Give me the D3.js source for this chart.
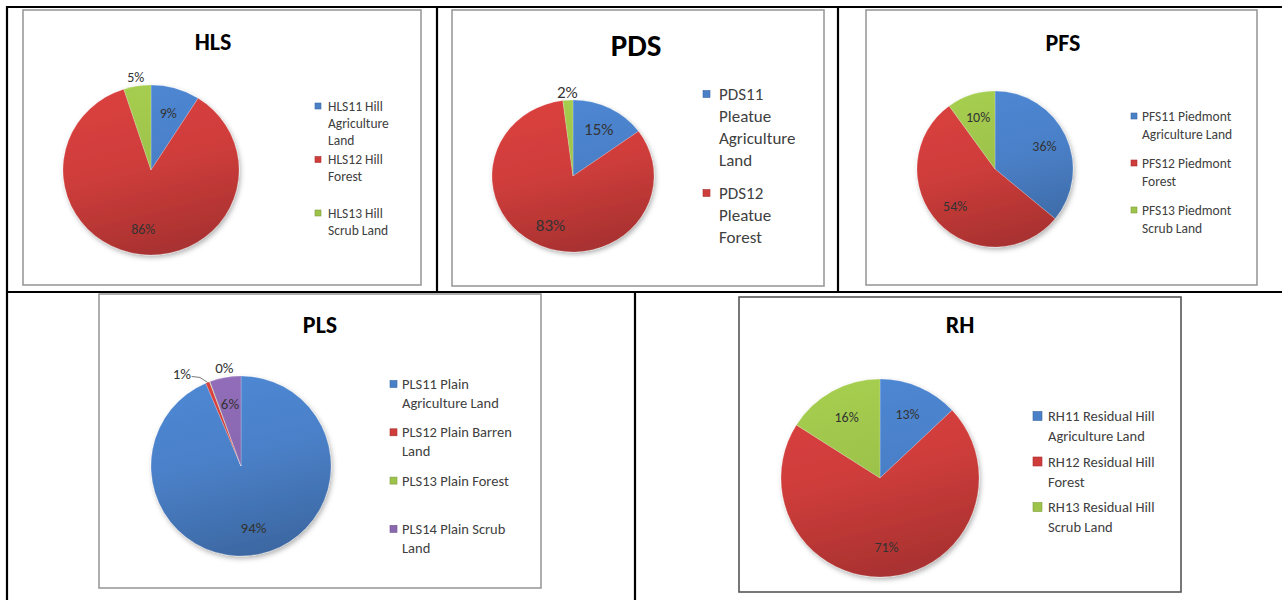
<!DOCTYPE html>
<html>
<head>
<meta charset="utf-8">
<script src="https://cdn.jsdelivr.net/npm/d3@7"></script>
<style>
  body { margin: 0; background: #fff; }
  svg { display: block; }
  text { font-family: Carlito, Calibri, Lato, sans-serif; }
</style>
</head>
<body>
<svg id="fig" width="1282" height="600"></svg>
<script>
// ---- data (percent of each land class) ----
var hlsNames = ["HLS11 Hill\nAgriculture\nLand", "HLS12 Hill\nForest", "HLS13 Hill\nScrub Land"],
    hlsValues = [9, 86, 5];
var pdsNames = ["PDS11\nPleatue\nAgriculture\nLand", "PDS12\nPleatue\nForest"],
    pdsValues = [15, 83, 2];
var pfsNames = ["PFS11 Piedmont\nAgriculture Land", "PFS12 Piedmont\nForest", "PFS13 Piedmont\nScrub Land"],
    pfsValues = [36, 54, 10];
var plsNames = ["PLS11 Plain\nAgriculture Land", "PLS12 Plain Barren\nLand", "PLS13 Plain Forest", "PLS14 Plain Scrub\nLand"],
    plsValues = [93.6, 0.7, 0.1, 5.6];
var rhNames = ["RH11 Residual Hill\nAgriculture Land", "RH12 Residual Hill\nForest", "RH13 Residual Hill\nScrub Land"],
    rhValues = [13, 71, 16];

var palette = ["#4a80c8", "#cf3d3b", "#9dc34b", "#8a68b0"];

// layout of each chart box
var charts = [
  { title: "HLS", names: hlsNames, values: hlsValues, frame: [23, 10, 421, 285], frameColor: "#9a9a9a",
    titleX: 213, titleY: 42, titleSize: 24, cx: 151, cy: 170, rx: 88, ry: 85,
    legX: 315, legY: 106, lh: 17, slot: 53.5, fs: 13.5, sq: 6, gap: 7, labelSize: 14 },
  { title: "PDS", names: pdsNames, values: pdsValues, frame: [452, 10, 824, 286], frameColor: "#9a9a9a",
    titleX: 636, titleY: 45, titleSize: 31, cx: 573, cy: 176, rx: 81, ry: 76,
    legX: 703, legY: 94, lh: 22, slot: 99, fs: 17, sq: 7, gap: 9, labelSize: 17 },
  { title: "PFS", names: pfsNames, values: pfsValues, frame: [866, 10, 1257, 285], frameColor: "#9a9a9a",
    titleX: 1063, titleY: 43, titleSize: 24, cx: 995, cy: 169, rx: 78, ry: 78,
    legX: 1131, legY: 116, lh: 18.5, slot: 47, fs: 13.5, sq: 6, gap: 5, labelSize: 14 },
  { title: "PLS", names: plsNames, values: plsValues, frame: [99, 294, 541, 588], frameColor: "#9a9a9a",
    titleX: 320, titleY: 325, titleSize: 24, cx: 241, cy: 466, rx: 90, ry: 90,
    legX: 390, legY: 384, lh: 19, slot: 48.3, fs: 14.5, sq: 7, gap: 5, labelSize: 15 },
  { title: "RH", names: rhNames, values: rhValues, frame: [739, 297, 1181, 592], frameColor: "#555",
    titleX: 960, titleY: 325, titleSize: 24, cx: 880, cy: 478, rx: 99, ry: 99,
    legX: 1033, legY: 416, lh: 20, slot: 45.5, fs: 14.5, sq: 9, gap: 6, labelSize: 14 }
];

var svg = d3.select("#fig");
var defs = svg.append("defs");

defs.append("filter").attr("id", "shadow").attr("x", "-20%").attr("y", "-20%").attr("width", "140%").attr("height", "140%")
  .append("feDropShadow").attr("dx", 1.5).attr("dy", 2.5).attr("stdDeviation", 2.5)
  .attr("flood-color", "#000").attr("flood-opacity", 0.3);

// table grid
var grid = [
  [6, 7, 1282, 7], [6, 292, 1282, 292],
  [7, 6, 7, 600], [437, 6, 437, 292], [838, 6, 838, 292], [635, 292, 635, 600]
];
svg.append("g").selectAll("line").data(grid).enter().append("line")
  .attr("x1", function (d) { return d[0]; }).attr("y1", function (d) { return d[1]; })
  .attr("x2", function (d) { return d[2]; }).attr("y2", function (d) { return d[3]; })
  .attr("stroke", "#000").attr("stroke-width", 2.2);

var pie = d3.pie().sort(null).value(function (d) { return d; });
var deg = Math.PI / 180;

charts.forEach(function (c, ci) {
  var g = svg.append("g");
  var f = c.frame;
  g.append("rect").attr("x", f[0]).attr("y", f[1]).attr("width", f[2] - f[0]).attr("height", f[3] - f[1])
    .attr("fill", "#fff").attr("stroke", c.frameColor).attr("stroke-width", 1.6);

  g.append("text").attr("x", c.titleX).attr("y", c.titleY).attr("dy", "0.35em")
    .attr("text-anchor", "middle").attr("font-weight", "bold").attr("font-size", c.titleSize)
    .attr("fill", "#000").text(c.title);

  // gradients per colour, in the pie's own (centred) coordinates: lighter top, darker bottom
  palette.forEach(function (col, k) {
    var base = d3.color(col);
    var lg = defs.append("linearGradient").attr("id", "g" + ci + "_" + k)
      .attr("gradientUnits", "userSpaceOnUse")
      .attr("x1", -c.rx * 0.3).attr("y1", -c.rx)
      .attr("x2", c.rx * 0.2).attr("y2", c.rx);
    lg.append("stop").attr("offset", 0).attr("stop-color", base.brighter(0.15).formatHex());
    lg.append("stop").attr("offset", 0.45).attr("stop-color", base.formatHex());
    lg.append("stop").attr("offset", 1).attr("stop-color", base.darker(0.6).formatHex());
  });

  var arcs = pie(c.values);
  var total = d3.sum(c.values);
  var arc = d3.arc().innerRadius(0).outerRadius(c.rx);

  var pg = g.append("g").attr("filter", "url(#shadow)")
    .attr("transform", "translate(" + c.cx + "," + c.cy + ") scale(1," + (c.ry / c.rx) + ")");
  pg.selectAll("path").data(arcs).enter().append("path")
    .attr("d", arc)
    .attr("fill", function (d, i) { return "url(#g" + ci + "_" + i + ")"; })
    .attr("stroke", "rgba(255,255,255,0.35)").attr("stroke-width", 0.6);

  // data labels
  var labels = arcs.map(function (d, i) {
    var pct = Math.round(d.value / total * 100);
    return { i: i, pct: pct, a: (d.startAngle + d.endAngle) / 2, outside: d.value / total * 100 <= 5, k: 0.7, leader: false };
  });
  var outs = labels.filter(function (l) { return l.outside; });
  outs.forEach(function (l) { l.k = 1.11; l.a0 = l.a; });
  for (var j = 1; j < outs.length; j++) {
    var p = outs[j - 1], q = outs[j], gap = 23 * deg;
    if (q.a - p.a < gap) {
      var mid = (p.a + q.a) / 2;
      p.a = mid - gap / 2; q.a = mid + gap / 2;
      p.leader = true; p.k = 1.22;
    }
  }
  labels.forEach(function (l) {
    l.x = c.cx + l.k * c.rx * Math.sin(l.a);
    l.y = c.cy - l.k * c.ry * Math.cos(l.a);
  });

  g.selectAll("text.lbl").data(labels).enter().append("text").attr("class", "lbl")
    .attr("x", function (l) { return l.x; }).attr("y", function (l) { return l.y; })
    .attr("dy", "0.35em").attr("text-anchor", "middle")
    .attr("font-size", c.labelSize).attr("fill", "#333")
    .text(function (l) { return l.pct + "%"; });

  labels.filter(function (l) { return l.leader; }).forEach(function (l) {
    var ex = c.cx + c.rx * Math.sin(l.a0), ey = c.cy - c.ry * Math.cos(l.a0);
    g.append("path")
      .attr("d", d3.line()([[l.x + c.labelSize * 0.65, l.y + 3], [l.x + c.labelSize * 1.2, l.y + 4], [ex, ey]]))
      .attr("fill", "none").attr("stroke", "#555").attr("stroke-width", 0.8);
  });

  // legend
  var leg = g.append("g");
  c.names.forEach(function (name, i) {
    var y0 = c.legY + i * c.slot;
    var col = d3.color(palette[i]);
    leg.append("rect").attr("x", c.legX).attr("y", y0 - c.sq / 2).attr("width", c.sq).attr("height", c.sq)
      .attr("fill", col.formatHex()).attr("stroke", col.darker(0.6).formatHex()).attr("stroke-width", 0.6);
    var t = leg.append("text").attr("font-size", c.fs).attr("fill", "#404040");
    name.split("\n").forEach(function (line, k) {
      t.append("tspan").attr("x", c.legX + c.sq + c.gap).attr("y", y0 + k * c.lh)
        .attr("dy", "0.35em").text(line);
    });
  });
});
</script>
</body>
</html>
